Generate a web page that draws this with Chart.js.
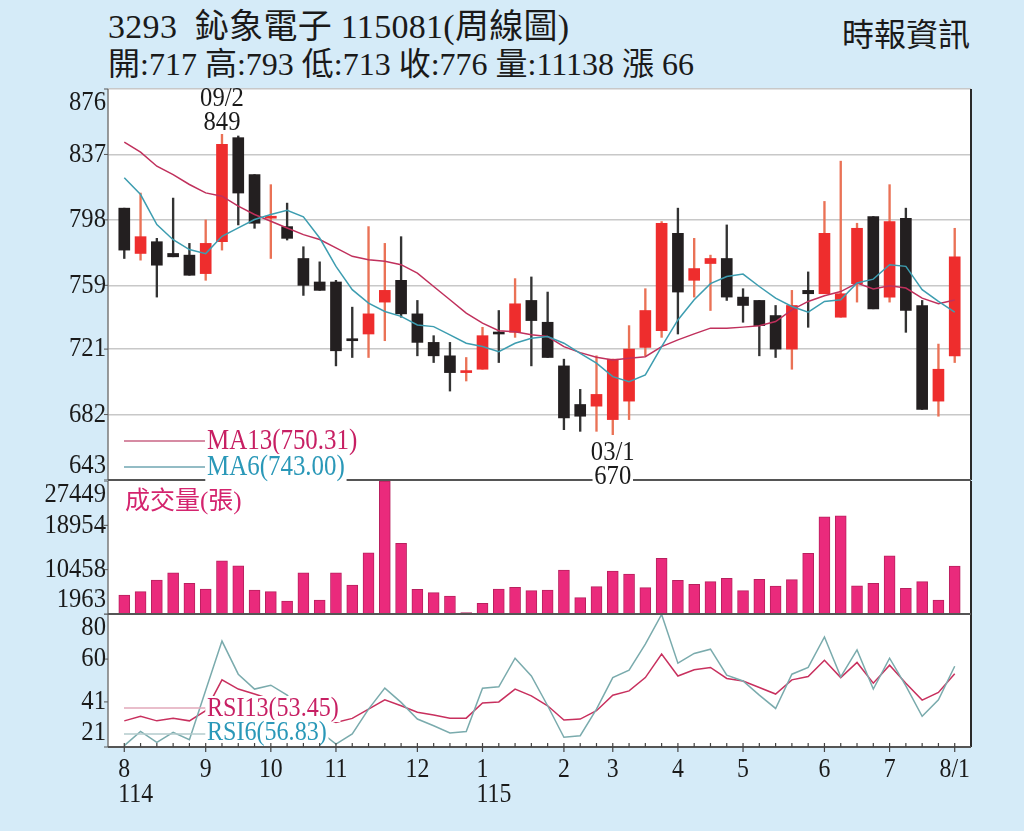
<!DOCTYPE html>
<html lang="zh-Hant">
<head>
<meta charset="UTF-8">
<title>3293 鈊象電子 周線圖</title>
<script src="https://cdn.jsdelivr.net/npm/chart.js"></script>
<style>
    html, body { margin: 0; padding: 0; }
    body {
        width: 1024px; height: 831px; overflow: hidden; position: relative;
        background: #d5ebf8; color: #1a1a1a;
        font-family: 'Liberation Serif', 'Noto Sans CJK TC', serif;
    }
    .title { position: absolute; left: 108px; white-space: nowrap; }
    #t1 { top: 7px; font-size: 34px; line-height: 40px; letter-spacing: 0.3px; }
    #t2 { top: 44px; font-size: 32px; line-height: 40px; }
    #src { position: absolute; right: 54px; top: 15px; font-size: 32px; line-height: 40px; }
    canvas { position: absolute; left: 0; }
</style>
</head>
<body>
<div class="title" id="t1">3293&nbsp; 鈊象電子 115081(周線圖)</div>
<div class="title" id="t2">開:717 高:793 低:713 收:776 量:11138 漲 66</div>
<div id="src">時報資訊</div>

<canvas id="cRsi" width="1024" height="217" style="top:614px; z-index:1"></canvas>
<canvas id="cVol" width="1024" height="135" style="top:481px; z-index:2"></canvas>
<canvas id="cMain" width="1024" height="415" style="top:78px; z-index:3"></canvas>

<script>
// weekly candles, index 0 = first week of Aug (114), index 51 = 8/1 (115)
const openP  = [805, 778, 785, 778, 777, 766, 785, 847, 825, 799, 794, 775, 761, 761, 727, 730, 749, 762, 742, 725,
                717, 707, 709, 731, 731, 750, 737, 711, 688, 687, 679, 690, 722, 732, 790, 762, 772, 775, 752, 750,
                741, 721, 756, 754, 740, 760, 800, 752, 799, 747, 690, 717];
const highP  = [805, 814, 787, 811, 784, 798, 849, 848, 825, 819, 808, 782, 773, 762, 746, 794, 784, 788, 750, 729,
                725, 716, 734, 744, 763, 764, 755, 715, 697, 717, 715, 735, 757, 797, 805, 787, 777, 795, 757, 750,
                747, 756, 767, 809, 833, 796, 800, 819, 805, 750, 724, 793];
const lowP   = [775, 774, 752, 776, 765, 762, 780, 795, 793, 775, 786, 753, 756, 711, 716, 716, 726, 740, 717, 713,
                696, 702, 709, 713, 728, 711, 716, 673, 672, 672, 670, 679, 717, 728, 730, 752, 744, 750, 737, 717,
                716, 709, 734, 754, 740, 749, 745, 749, 731, 685, 681, 713];
const closeP = [780, 788, 771, 776, 765, 784, 843, 814, 796, 800, 787, 759, 756, 720, 726, 742, 756, 742, 725, 717,
                707, 708, 729, 730, 748, 738, 716, 680, 681, 694, 715, 721, 744, 796, 755, 769, 775, 752, 747, 735,
                721, 747, 754, 790, 754, 793, 745, 797, 744, 685, 709, 776];

const ma13 = [844.3, 838.4, 830, 825, 819.1, 814.1, 812.1, 806.2, 801.2, 797.2, 793.2, 789.2, 786.3, 781.3, 776.3,
              774.3, 773.3, 771.3, 766.3, 758.3, 750.4, 742.4, 736.5, 732, 731.4, 729.5, 728.5, 722.5, 718.9, 716.2,
              714.5, 715.6, 716.5, 722.5, 726.5, 730.1, 733.5, 733.5, 734.1, 734.9, 737.4, 744.4, 749.4, 752.8,
              755.3, 760.4, 756.8, 758.7, 757.4, 751.4, 748, 750.3];
const ma6  = [823.1, 813.1, 795.2, 786.2, 780.3, 777.9, 788.2, 793.2, 798.2, 801.2, 803.7, 799.8, 787.2, 770.3, 756.4,
              748.4, 743.4, 740.5, 735.4, 734.4, 729.5, 724.5, 722.5, 719.5, 724.5, 727.5, 728.5, 724.5, 718.5, 712.6,
              704.6, 701.6, 705.6, 722.5, 738.4, 750.4, 760, 764.3, 765.7, 758.3, 751.4, 746.4, 743, 749.4, 750.4,
              760.4, 762.7, 771.3, 770.3, 756.4, 749.4, 743];

const volume = [5603, 6236, 8477, 9876, 7845, 6753, 12175, 11217, 6561, 6236, 4454, 9876, 4645, 9876, 7519, 13708,
                27449, 15509, 6696, 6044, 5412, 2212, 4013, 6753, 7079, 6427, 6561, 10393, 5086, 7194, 10202, 9627,
                7002, 12635, 8420, 7654, 8152, 8803, 6427, 8612, 7328, 8535, 13593, 20606, 20797, 7385, 7845, 13133,
                6887, 8152, 4645, 11138];

const rsi13 = [32.6, 34.6, 32.6, 33.8, 32.6, 37.1, 50.8, 46.7, 44.5, 42.2, 40, 37.8, 34.9, 31.9, 33.7, 37.8, 41.9,
               39.3, 36.4, 35.2, 33.8, 33.8, 40.5, 41, 46.7, 43.7, 39.3, 33, 33.4, 37.1, 44, 45.9, 51.8, 62.2, 52.5,
               55.3, 56.3, 51.4, 50.3, 47.4, 44.5, 50.8, 52.3, 59.5, 51.8, 58.5, 49.3, 57.3, 49.3, 41.8, 45.2, 53.45];
const rsi6  = [21.6, 27.9, 23.1, 27.5, 24.2, 46.2, 68, 53.3, 46.7, 48.4, 44, 36, 28, 22.3, 26.8, 37.8, 47.1, 40.8,
               33.4, 30.4, 27.2, 27.9, 47.1, 47.7, 60.4, 52.5, 39.3, 25.3, 26, 37.8, 51.8, 55.1, 66.6, 79.8, 58.2,
               62.5, 64.4, 52.9, 50.3, 44, 38.1, 53.3, 56.3, 69.8, 52.1, 64.1, 46.7, 60.4, 48.1, 34.6, 41.9, 56.83];

// axis ticks
const priceTicks = [643, 682, 721, 759, 798, 837, 876];
const volTicks   = [1963, 10458, 18954, 27449];
const rsiTicks   = [21, 41, 60, 80];
const monthTickIdx  = [0, 5, 9, 13, 18, 22, 27, 30, 34, 38, 43, 47, 51];
const monthTickText = ['8', '9', '10', '11', '12', '1', '2', '3', '4', '5', '6', '7', '8/1'];
const yearTickText  = ['114', '', '', '', '', '115', '', '', '', '', '', '', ''];

// text labels
const maLegend  = ['MA13(750.31)', 'MA6(743.00)'];
const rsiLegend = ['RSI13(53.45)', 'RSI6(56.83)'];
const volTitle  = '成交量(張)';
const highNote  = { idx: 6, date: '09/2' };
const lowNote   = { idx: 30, date: '03/1' };

const RED = '#ee2d2d', BLACK = '#231f20';
const C13 = '#c71f63', C6 = '#2a98b8';
const SERIF = "'Liberation Serif', 'Noto Sans CJK TC', serif";

const idx = openP.map((_, i) => i);
const isUp = idx.map(i => closeP[i] >= openP[i]);
const pts = arr => arr.map((v, i) => ({ x: i, y: v }));

// draw text, squeezed horizontally like the source picture
function text(ctx, str, x, y, o) {
    ctx.save();
    ctx.font = o.font;
    ctx.textAlign = o.align || 'left';
    ctx.textBaseline = o.baseline || 'alphabetic';
    ctx.translate(x, y);
    ctx.scale(o.sx || 1, 1);
    const w = ctx.measureText(str).width;
    if (o.bg) {
        const x0 = o.align === 'center' ? -w / 2 : (o.align === 'right' ? -w : 0);
        ctx.fillStyle = o.bg;
        ctx.fillRect(x0 - 2, -o.asc, w + 4, o.asc + o.desc);
    }
    ctx.fillStyle = o.color || '#1a1a1a';
    ctx.fillText(str, 0, 0);
    ctx.restore();
    return w * (o.sx || 1);
}

function line(ctx, x1, y1, x2, y2, color, width) {
    ctx.save();
    ctx.strokeStyle = color;
    ctx.lineWidth = width;
    ctx.beginPath();
    ctx.moveTo(x1, y1);
    ctx.lineTo(x2, y2);
    ctx.stroke();
    ctx.restore();
}

// white plot area, frame and clamped y labels for every panel
const panelPlugin = {
    id: 'panel',
    beforeDraw(chart) {
        const { ctx, chartArea: a } = chart;
        ctx.save();
        ctx.fillStyle = '#fff';
        ctx.fillRect(a.left, a.top, a.right - a.left, a.bottom - a.top);
        ctx.restore();
    },
    afterDatasetsDraw(chart) {
        const { ctx, chartArea: a } = chart;
        const ys = chart.scales.y;
        line(ctx, a.left, a.top, a.left, a.bottom, '#7a7a7a', 1.5);
        line(ctx, a.right, a.top, a.right, a.bottom, '#2a2a2a', 2);
        line(ctx, a.left, a.bottom, a.right, a.bottom, '#555', 2);
        ys.ticks.forEach(t => {
            let py = ys.getPixelForValue(t.value);
            line(ctx, a.left - 4, py, a.left, py, '#555', 1);
            py = Math.min(Math.max(py, a.top + 14), a.bottom - 14);
            text(ctx, String(t.value), a.left - 2, py, {
                font: '28px ' + SERIF, align: 'right', baseline: 'middle', sx: 0.88
            });
        });
    }
};

function yScale(ticks, min, max, grid) {
    return {
        type: 'linear', position: 'left', min: min, max: max,
        afterBuildTicks: s => { s.ticks = ticks.map(v => ({ value: v })); },
        afterFit: s => { s.width = 108; },
        ticks: { display: false },
        grid: { display: grid, color: '#c8c8c8', lineWidth: 1.5, drawTicks: false },
        border: { display: false }
    };
}

// same week axis in all three panels; no bar offset so weeks line up
const xScale = { type: 'linear', min: -1, max: 52, offset: false, grid: { offset: false }, display: false };

const common = {
    responsive: false,
    animation: false,
    events: [],
    plugins: { legend: { display: false }, tooltip: { enabled: false } }
};

// ---- price panel ----
new Chart(document.getElementById('cMain'), {
    data: {
        datasets: [
            {
                type: 'line', data: pts(ma6), borderColor: '#3d9db0', borderWidth: 1.5,
                pointRadius: 0, order: 0
            },
            {
                type: 'line', data: pts(ma13), borderColor: '#c0305c', borderWidth: 1.5,
                pointRadius: 0, order: 1
            },
            {
                type: 'bar', grouped: false, order: 2, barThickness: 11, minBarLength: 2,
                data: idx.map(i => ({ x: i, y: [openP[i], closeP[i]] })),
                backgroundColor: idx.map(i => isUp[i] ? RED : BLACK)
            },
            {
                type: 'bar', grouped: false, order: 3, barThickness: 1.7,
                data: idx.map(i => ({ x: i, y: [lowP[i], highP[i]] })),
                backgroundColor: idx.map(i => isUp[i] ? '#ea7256' : '#333')
            }
        ]
    },
    options: Object.assign({}, common, {
        layout: { padding: { top: 11, bottom: 13, left: 0, right: 53 } },
        scales: { x: xScale, y: yScale(priceTicks, 643, 876, true) }
    }),
    plugins: [panelPlugin, {
        id: 'mainNotes',
        afterDraw(chart) {
            const { ctx, chartArea: a, scales: { x, y } } = chart;
            const f = '28px ' + SERIF;
            // highest and lowest week
            const hx = x.getPixelForValue(highNote.idx), hy = y.getPixelForValue(highP[highNote.idx]);
            text(ctx, highNote.date, hx, hy - 28, { font: f, align: 'center', sx: 0.88 });
            text(ctx, String(highP[highNote.idx]), hx, hy - 4, { font: f, align: 'center', sx: 0.88 });
            const lx = x.getPixelForValue(lowNote.idx), ly = y.getPixelForValue(lowP[lowNote.idx]);
            text(ctx, lowNote.date, lx, ly + 25, { font: f, align: 'center', sx: 0.88 });
            text(ctx, String(lowP[lowNote.idx]), lx, ly + 49, {
                font: f, align: 'center', sx: 0.88, bg: '#fff', asc: 20, desc: 4
            });
            // moving average legend, placed from the bottom of the panel
            const b = a.bottom;
            line(ctx, 124, b - 39, 205, b - 39, '#c86484', 1.5);
            text(ctx, maLegend[0], 207, b - 31, { font: '29px ' + SERIF, color: C13, sx: 0.86, bg: '#fff', asc: 21, desc: 6 });
            line(ctx, 124, b - 13, 205, b - 13, '#6fa6b2', 1.5);
            text(ctx, maLegend[1], 207, b - 5, { font: '29px ' + SERIF, color: C6, sx: 0.86, bg: '#fff', asc: 21, desc: 7 });
        }
    }]
});

// ---- volume panel ----
new Chart(document.getElementById('cVol'), {
    type: 'bar',
    data: {
        datasets: [{
            data: pts(volume), barThickness: 11,
            backgroundColor: '#ea2a7c', borderColor: '#b8205e', borderWidth: 1
        }]
    },
    options: Object.assign({}, common, {
        layout: { padding: { top: 0, bottom: 2, left: 0, right: 53 } },
        scales: { x: xScale, y: yScale(volTicks, 1963, 27449, false) }
    }),
    plugins: [panelPlugin, {
        id: 'volTitle',
        afterDraw(chart) {
            text(chart.ctx, volTitle, 125, 28, { font: '25px ' + SERIF, color: '#d4246e' });
        }
    }]
});

// ---- RSI panel with the time axis ----
new Chart(document.getElementById('cRsi'), {
    type: 'line',
    data: {
        datasets: [
            { data: pts(rsi6), borderColor: '#7aabad', borderWidth: 1.5, pointRadius: 0 },
            { data: pts(rsi13), borderColor: '#c8305e', borderWidth: 1.5, pointRadius: 0 }
        ]
    },
    options: Object.assign({}, common, {
        layout: { padding: { top: 0, bottom: 84, left: 0, right: 53 } },
        scales: { x: xScale, y: yScale(rsiTicks, 21, 80, false) }
    }),
    plugins: [panelPlugin, {
        id: 'rsiAxis',
        afterDraw(chart) {
            const { ctx, chartArea: a, scales: { x } } = chart;
            // legend
            line(ctx, 124, 94, 207, 94, '#e2a9ba', 1.5);
            text(ctx, rsiLegend[0], 207, 102, { font: '28px ' + SERIF, color: C13, sx: 0.86, bg: '#fff', asc: 20, desc: 6 });
            line(ctx, 124, 120, 207, 120, '#b3cbcc', 1.5);
            text(ctx, rsiLegend[1], 207, 126, { font: '28px ' + SERIF, color: C6, sx: 0.86, bg: '#fff', asc: 20, desc: 6 });
            // weekly tick marks
            idx.forEach(i => {
                const px = x.getPixelForValue(i);
                const major = monthTickIdx.includes(i);
                line(ctx, px, a.bottom - 4, px, a.bottom + (major ? 5 : 0), '#444', 1.2);
            });
            // month labels, year under the first month of each year
            const f = '28px ' + SERIF;
            monthTickIdx.forEach((v, k) => {
                const px = x.getPixelForValue(v);
                const w = text(ctx, monthTickText[k], px, a.bottom + 30, { font: f, align: 'center', sx: 0.85 });
                if (yearTickText[k]) {
                    text(ctx, yearTickText[k], px - w / 2, a.bottom + 55, { font: f, sx: 0.85 });
                }
            });
        }
    }]
});
</script>
</body>
</html>
